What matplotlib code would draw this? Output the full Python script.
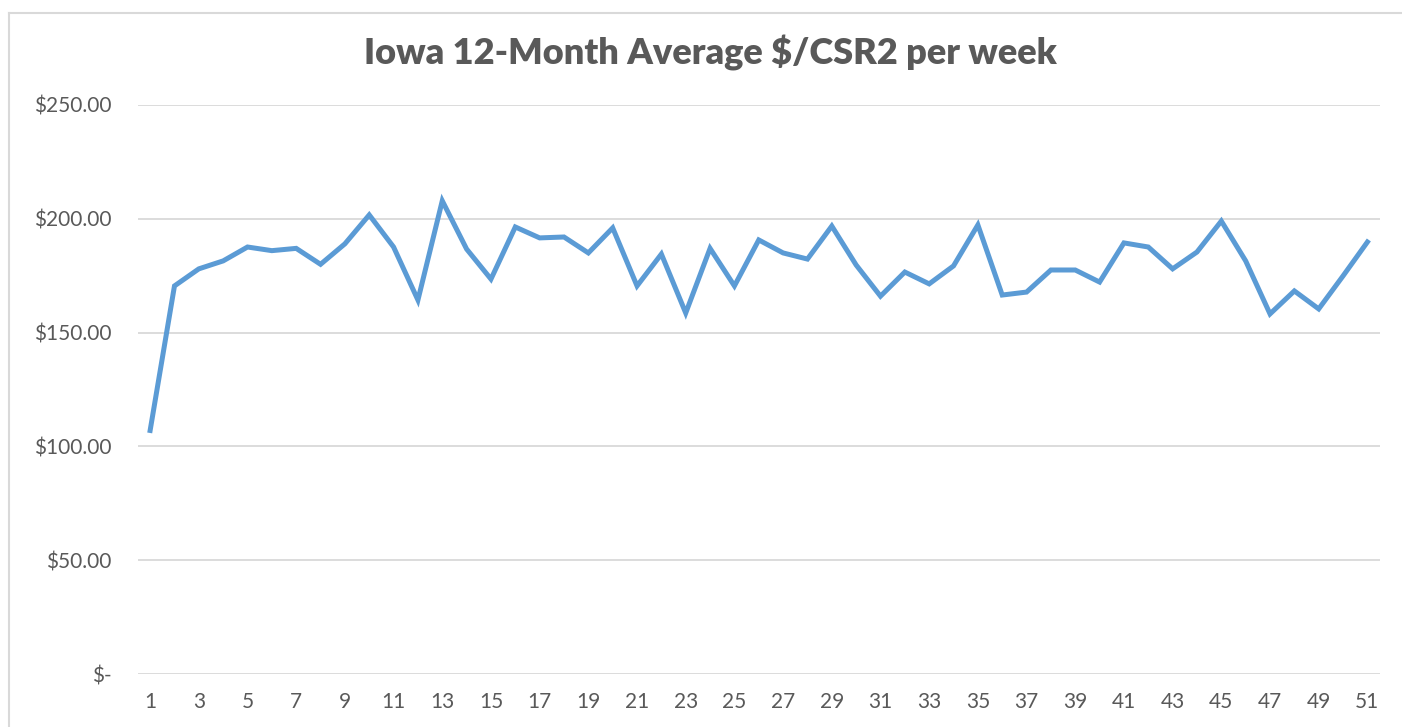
import numpy as np
import matplotlib as mpl
from matplotlib import pyplot as plt
from matplotlib.lines import Line2D
from matplotlib.ticker import FuncFormatter

# weekly values
weeks = list(range(1, 52))
avgPerCSR2 = [107.0, 170.5, 178.0, 181.5, 187.6, 186.0, 187.0, 180.0, 189.0, 201.7,
              187.6, 164.3, 207.9, 186.7, 173.5, 196.4, 191.6, 192.0, 185.0, 196.0,
              170.5, 184.5, 158.6, 187.0, 170.5, 190.7, 185.0, 182.3, 196.8, 179.7,
              166.0, 176.6, 171.4, 179.3, 197.3, 166.5, 167.8, 177.5, 177.5, 172.2,
              189.4, 187.6, 178.0, 185.4, 199.0, 181.5, 158.2, 168.3, 160.4, 174.9,
              189.8]
yTicks = [0, 50, 100, 150, 200, 250]
xTicks = list(range(1, 52, 2))
title = 'Iowa 12-Month Average $/CSR2 per week'

textColor = '#595959'
lineColor = '#5B9BD5'
gridColor = '#D9D9D9'

mpl.rc('font', **{'family': 'sans-serif', 'sans-serif': ['Lato', 'DejaVu Sans']})

f = plt.figure(figsize=(14.02, 7.27), dpi=100)
ax1 = f.add_axes([0.0984, 0.0729, 0.8856, 0.7827])

# light frame around the chart area (only left and top edges are in view)
xL = 8.5 / 1402
yT = 1 - 12.5 / 727
f.lines.append(Line2D([xL, xL], [0, yT], transform=f.transFigure,
                      color='#D9D9D9', lw=1.5))
f.lines.append(Line2D([xL, 1], [yT, yT], transform=f.transFigure,
                      color='#D9D9D9', lw=1.5))

ax1.plot(weeks, avgPerCSR2, color=lineColor, lw=3.6, solid_joinstyle='miter', zorder=3)

ax1.set_xlim(0.5, 51.5)
ax1.set_ylim(0, 250)
ax1.set_xticks(xTicks)
ax1.set_yticks(yTicks)

def money(v, pos):
    if v == 0:
        return '$-'
    return '${:,.2f}'.format(v)

ax1.yaxis.set_major_formatter(FuncFormatter(money))
ax1.tick_params('both', length=0, labelsize=15, labelcolor=textColor)
ax1.tick_params(axis='x', pad=13)
ax1.tick_params(axis='y', pad=19)

for spine in ax1.spines.values():
    spine.set_visible(False)
ax1.grid(axis='y', color=gridColor, linewidth=1.3)
ax1.set_axisbelow(True)

f.text(0.5065, 0.927, title, ha='center', va='center', fontsize=26,
       fontweight='heavy', color=textColor)

f.savefig('out.png', dpi=100, facecolor='white')
